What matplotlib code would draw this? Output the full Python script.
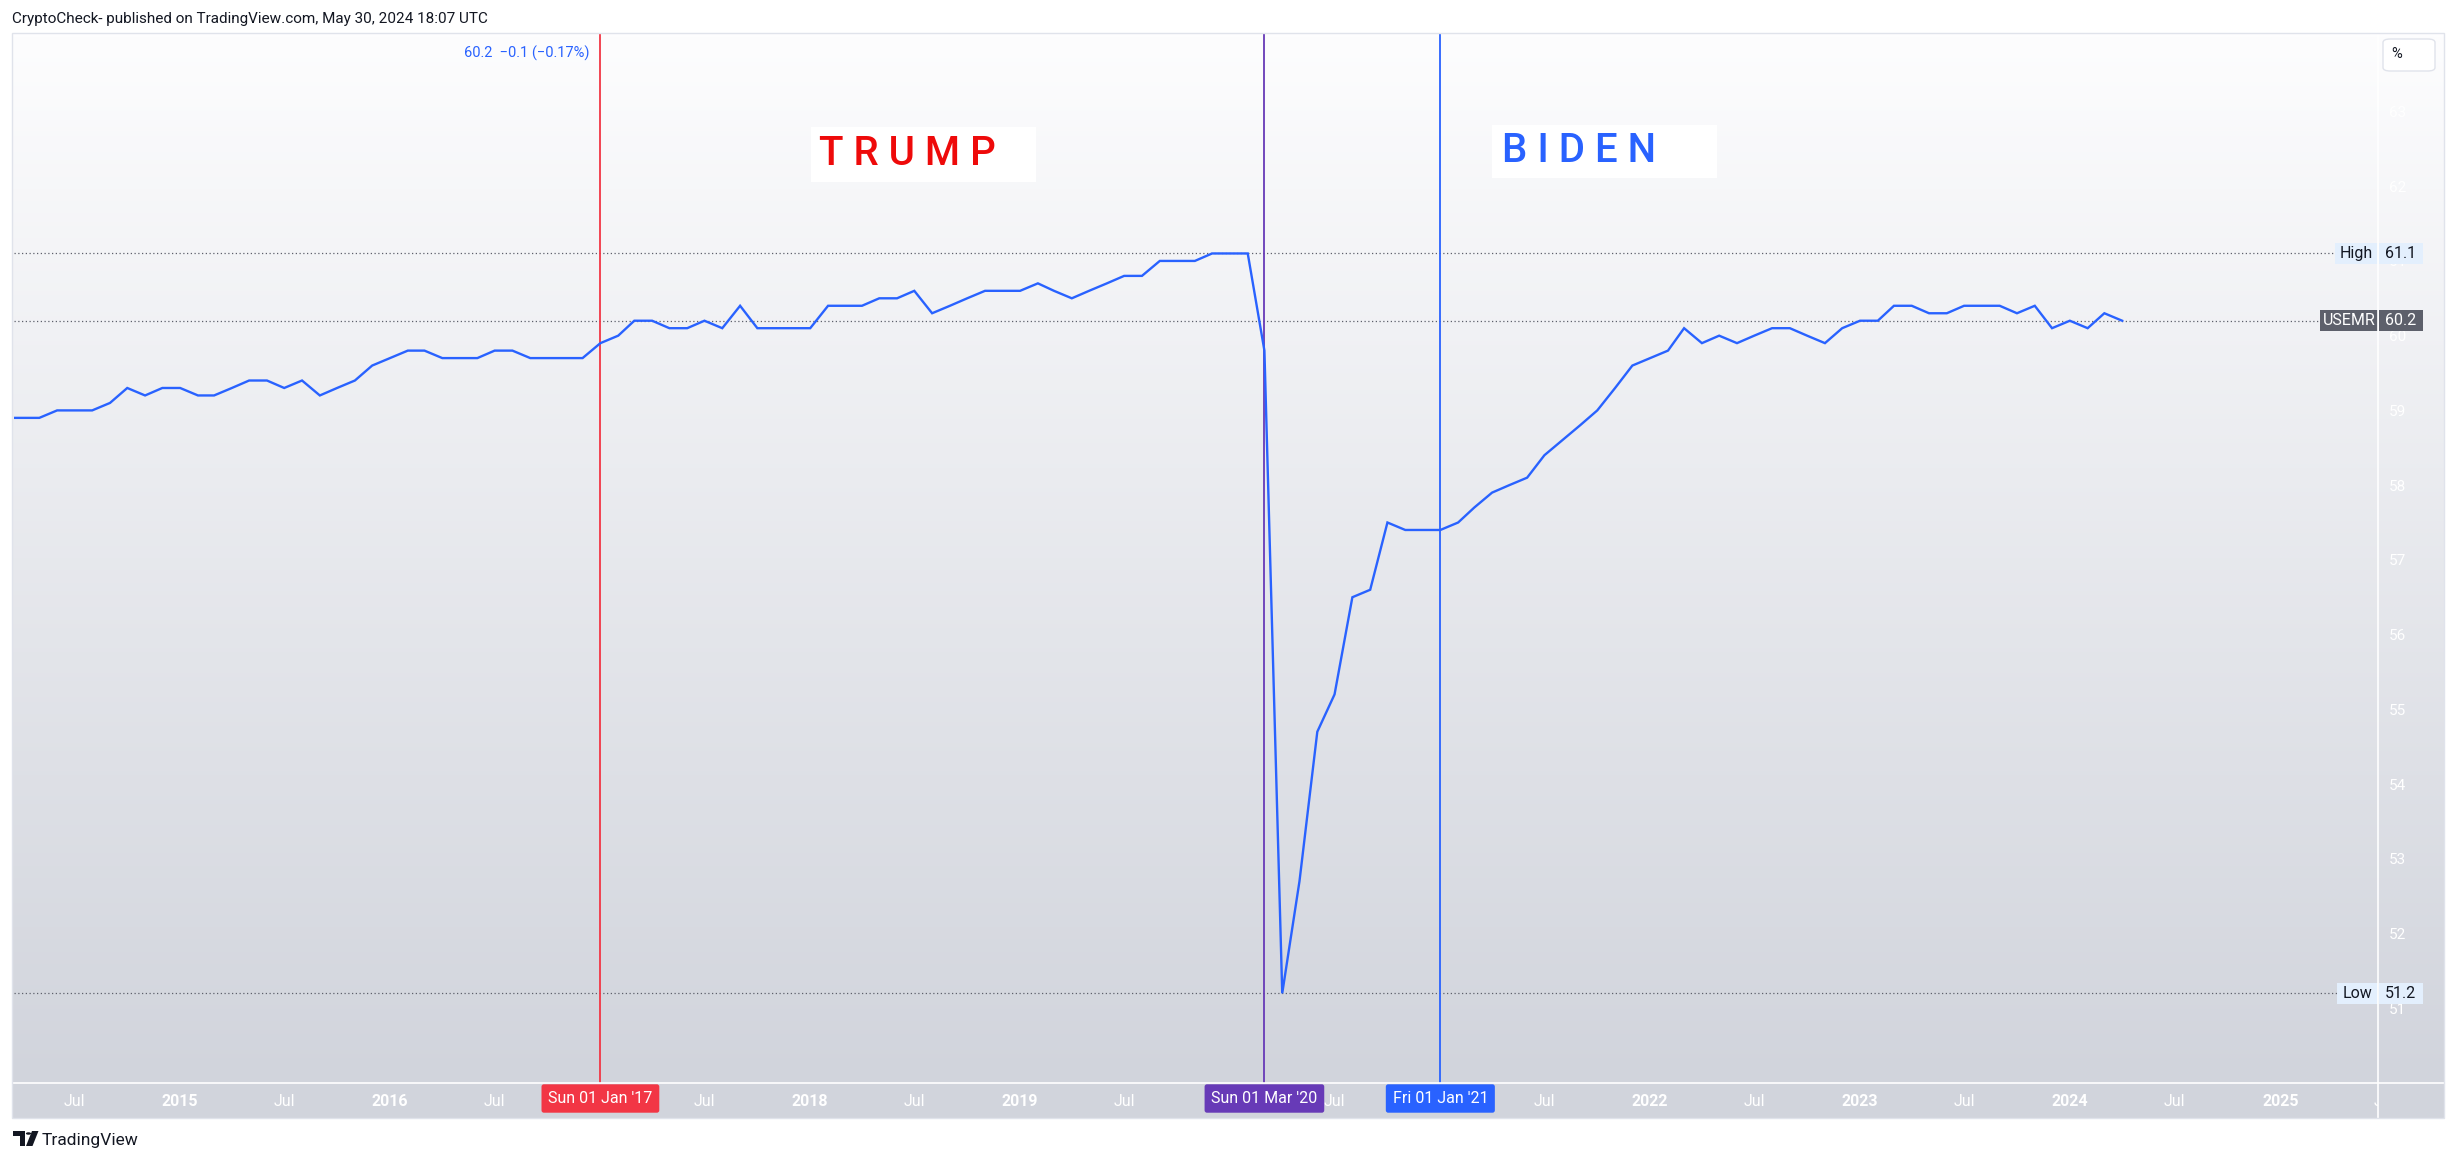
import numpy as np
import pandas as pd
import matplotlib
matplotlib.use('Agg')
import matplotlib.pyplot as plt
import matplotlib.dates as mdates
from matplotlib.patches import Rectangle, FancyBboxPatch, Polygon, Circle
from matplotlib.colors import LinearSegmentedColormap
from matplotlib.transforms import blended_transform_factory, Bbox, TransformedBbox

plt.rcParams['font.family'] = ['Roboto', 'DejaVu Sans']

W, H, DPI = 2455, 1162, 100

# ── Data: US employment-population ratio (USEMR), monthly ──────────────────────
months = pd.date_range('2014-03-01', '2024-04-01', freq='MS')
usemr = [
    58.9, 58.9, 58.9, 59.0, 59.0, 59.0, 59.1, 59.3, 59.2, 59.3,                  # 2014 Mar-Dec
    59.3, 59.2, 59.2, 59.3, 59.4, 59.4, 59.3, 59.4, 59.2, 59.3, 59.4, 59.6,      # 2015
    59.7, 59.8, 59.8, 59.7, 59.7, 59.7, 59.8, 59.8, 59.7, 59.7, 59.7, 59.7,      # 2016
    59.9, 60.0, 60.2, 60.2, 60.1, 60.1, 60.2, 60.1, 60.4, 60.1, 60.1, 60.1,      # 2017
    60.1, 60.4, 60.4, 60.4, 60.5, 60.5, 60.6, 60.3, 60.4, 60.5, 60.6, 60.6,      # 2018
    60.6, 60.7, 60.6, 60.5, 60.6, 60.7, 60.8, 60.8, 61.0, 61.0, 61.0, 61.1,      # 2019
    61.1, 61.1, 59.8, 51.2, 52.7, 54.7, 55.2, 56.5, 56.6, 57.5, 57.4, 57.4,      # 2020
    57.4, 57.5, 57.7, 57.9, 58.0, 58.1, 58.4, 58.6, 58.8, 59.0, 59.3, 59.6,      # 2021
    59.7, 59.8, 60.1, 59.9, 60.0, 59.9, 60.0, 60.1, 60.1, 60.0, 59.9, 60.1,      # 2022
    60.2, 60.2, 60.4, 60.4, 60.3, 60.3, 60.4, 60.4, 60.4, 60.3, 60.4, 60.1,      # 2023
    60.2, 60.1, 60.3, 60.2,                                                      # 2024 Jan-Apr
]

event_dates  = ['2017-01-01', '2020-03-01', '2021-01-01']
event_labels = ["Sun 01 Jan '17", "Sun 01 Mar '20", "Fri 01 Jan '21"]
event_colors = ['#f23645', '#673ab7', '#2962ff']

xtick_dates = ['2014-07-01', '2015-01-01', '2015-07-01', '2016-01-01', '2016-07-01',
               '2017-07-01', '2018-01-01', '2018-07-01', '2019-01-01', '2019-07-01',
               '2020-07-01', '2021-07-01', '2022-01-01', '2022-07-01', '2023-01-01',
               '2023-07-01', '2024-01-01', '2024-07-01', '2025-01-01', '2025-07-01']
xtick_labels = ['Jul', '2015', 'Jul', '2016', 'Jul', 'Jul', '2018', 'Jul', '2019', 'Jul',
                'Jul', 'Jul', '2022', 'Jul', '2023', 'Jul', '2024', 'Jul', '2025', 'Jul']
ytick_values = list(range(51, 64))

HIGH, LOW, LAST = max(usemr), min(usemr), usemr[-1]
CHG = LAST - usemr[-2]
PCT = CHG / usemr[-2] * 100

# ── Layout helpers (pixel coords, origin top-left) ─────────────────────────────
def fx(x): return x / W
def fy(y): return 1 - y / H

PANE_L, PANE_R, PANE_T, PANE_B = 12, 2444, 33, 1118
AX_L, AX_R, AX_T, AX_B = 14, 2378, 33, 1083
YMIN, YMAX = 50.0, 64.05
PX_PER_UNIT = (AX_B - AX_T) / (YMAX - YMIN)

fig = plt.figure(figsize=(W / DPI, H / DPI), dpi=DPI)
fig.patch.set_facecolor('white')

# background gradient (plot + price axis)
bg = fig.add_axes([fx(PANE_L), fy(AX_B), fx(PANE_R - PANE_L), (AX_B - AX_T) / H], zorder=0)
cmap = LinearSegmentedColormap.from_list('tvbg', ['#fdfdfe', '#d1d4dc'])
bg.imshow(np.linspace(0, 1, 256).reshape(-1, 1), aspect='auto', cmap=cmap,
          extent=[0, 1, 0, 1], origin='upper')
bg.axis('off')

# time axis strip
fig.patches.append(Rectangle((fx(PANE_L), fy(PANE_B)), fx(PANE_R - PANE_L), (PANE_B - AX_B) / H,
                             transform=fig.transFigure, facecolor='#d1d4dc', edgecolor='none', zorder=0))

# ── Main axes ────────────────────────────────────────────────────────────────
ax = fig.add_axes([fx(AX_L), fy(AX_B), fx(AX_R - AX_L), (AX_B - AX_T) / H], zorder=1)
ax.patch.set_alpha(0)
ax.set_xlim(mdates.date2num(pd.Timestamp('2014-03-18')), mdates.date2num(pd.Timestamp('2025-06-20')))
ax.set_ylim(YMIN, YMAX)
for s in ax.spines.values():
    s.set_visible(False)
ax.set_xticks([])
ax.yaxis.tick_right()
ax.set_yticks(ytick_values)
ax.tick_params(axis='y', length=0, pad=8, labelcolor='white', labelsize=11)

# price lines
for v in (HIGH, LAST, LOW):
    ax.axhline(v, color='#5d606b', lw=0.9, ls=(0, (1, 2)), zorder=1)

# event lines
for d, c in zip(event_dates, event_colors):
    ax.axvline(pd.Timestamp(d), color=c, lw=1.3, zorder=2)

ax.plot(months, usemr, color='#2962ff', lw=1.7, zorder=3, solid_joinstyle='miter')

# separators
fig.add_artist(plt.Line2D([fx(PANE_L), fx(PANE_R)], [fy(AX_B), fy(AX_B)], transform=fig.transFigure,
                          color='white', lw=1.2, zorder=2))
fig.add_artist(plt.Line2D([fx(AX_R), fx(AX_R)], [fy(PANE_T), fy(PANE_B)], transform=fig.transFigure,
                          color='white', lw=1.2, zorder=2))
fig.patches.append(Rectangle((fx(PANE_L), fy(PANE_B)), fx(PANE_R - PANE_L), (PANE_B - PANE_T) / H,
                             transform=fig.transFigure, facecolor='none', edgecolor='#e0e3eb',
                             lw=1, zorder=3))

# ── Time axis labels ──────────────────────────────────────────────────────────
xt = blended_transform_factory(ax.transData, fig.transFigure)
clip = TransformedBbox(Bbox([[fx(PANE_L), fy(PANE_B)], [fx(AX_R), fy(AX_B)]]), fig.transFigure)
for d, lbl in zip(xtick_dates, xtick_labels):
    t = ax.text(pd.Timestamp(d), fy(1101), lbl, transform=xt, ha='center', va='center',
                fontsize=11.5, color='white', fontweight='normal' if lbl == 'Jul' else 'bold')
    t.set_clip_box(clip)
    t.set_clip_on(True)

for d, lbl, c in zip(event_dates, event_labels, event_colors):
    ax.text(pd.Timestamp(d), fy(1098.5), lbl, transform=xt, ha='center', va='center',
            fontsize=11.5, color='white', zorder=6, clip_on=False,
            bbox=dict(boxstyle='round,pad=0.42,rounding_size=0.15', facecolor=c, edgecolor='none'))

# ── Price axis labels (High / last / Low) ─────────────────────────────────────
yt = blended_transform_factory(fig.transFigure, ax.transData)
BOX_H = 21 / PX_PER_UNIT
def price_tag(value, name, name_x0, face, fg):
    ax.add_patch(Rectangle((fx(name_x0), value - BOX_H / 2), fx(AX_R - name_x0), BOX_H,
                           transform=yt, facecolor=face, edgecolor='none', zorder=6, clip_on=False))
    ax.add_patch(Rectangle((fx(AX_R + 1), value - BOX_H / 2), fx(2423 - AX_R - 1), BOX_H,
                           transform=yt, facecolor=face, edgecolor='none', zorder=6, clip_on=False))
    ax.text(fx((name_x0 + AX_R) / 2), value, name, transform=yt, ha='center', va='center',
            fontsize=11.5, color=fg, zorder=7, clip_on=False)
    ax.text(fx((AX_R + 2423) / 2), value, f'{value:.1f}', transform=yt, ha='center', va='center',
            fontsize=11.5, color=fg, zorder=7, clip_on=False)

price_tag(HIGH, 'High', 2335, '#e3effd', '#131722')
price_tag(LAST, 'USEMR', 2320, '#5d606b', 'white')
price_tag(LOW, 'Low', 2337, '#e3effd', '#131722')

# % button
fig.patches.append(FancyBboxPatch((fx(2383), fy(71)), fx(52), 32 / H,
                                  boxstyle='round,pad=0,rounding_size=0.003',
                                  transform=fig.transFigure, facecolor='white',
                                  edgecolor='#e0e3eb', lw=1, zorder=4))
fig.text(fx(2397), fy(54), '%', ha='center', va='center', fontsize=10.5, color='#131722', zorder=5)

# ── Annotations ──────────────────────────────────────────────────────────────
fig.patches.append(Rectangle((fx(811), fy(182)), fx(225), 55 / H, transform=fig.transFigure,
                             facecolor='white', edgecolor='none', zorder=4))
fig.text(fx(819), fy(154), 'T R U M P', ha='left', va='center', fontsize=29,
         fontweight='medium', color='#ee0a0a', zorder=5)
fig.patches.append(Rectangle((fx(1492), fy(178)), fx(225), 53 / H, transform=fig.transFigure,
                             facecolor='white', edgecolor='none', zorder=4))
fig.text(fx(1502), fy(151), 'B I D E N', ha='left', va='center', fontsize=29,
         fontweight='medium', color='#2962ff', zorder=5)

# legend values
fig.text(fx(464), fy(53), f'{LAST:.1f}  \u2212{abs(CHG):.1f} (\u2212{abs(PCT):.2f}%)',
         ha='left', va='center', fontsize=10.5, color='#2962ff', zorder=5)

# header / footer
fig.text(fx(12), fy(19), 'CryptoCheck- published on TradingView.com, May 30, 2024 18:07 UTC',
         ha='left', va='center', fontsize=11, color='#131722')

logo = '#131722'
fig.patches.append(Polygon([(fx(13), fy(1131)), (fx(25), fy(1131)), (fx(25), fy(1146)),
                            (fx(19.5), fy(1146)), (fx(19.5), fy(1136)), (fx(13), fy(1136))],
                           closed=True, transform=fig.transFigure, facecolor=logo, edgecolor='none'))
fig.patches.append(Circle((fx(28.5), fy(1133.5)), 2.6 / W, transform=fig.transFigure,
                          facecolor=logo, edgecolor='none'))
fig.patches.append(Polygon([(fx(32), fy(1131)), (fx(38.5), fy(1131)), (fx(32.5), fy(1146)),
                            (fx(26), fy(1146))],
                           closed=True, transform=fig.transFigure, facecolor=logo, edgecolor='none'))
fig.text(fx(42), fy(1140), 'TradingView', ha='left', va='center', fontsize=12.5, color=logo)

fig.savefig('out.png', dpi=DPI, facecolor='white')
